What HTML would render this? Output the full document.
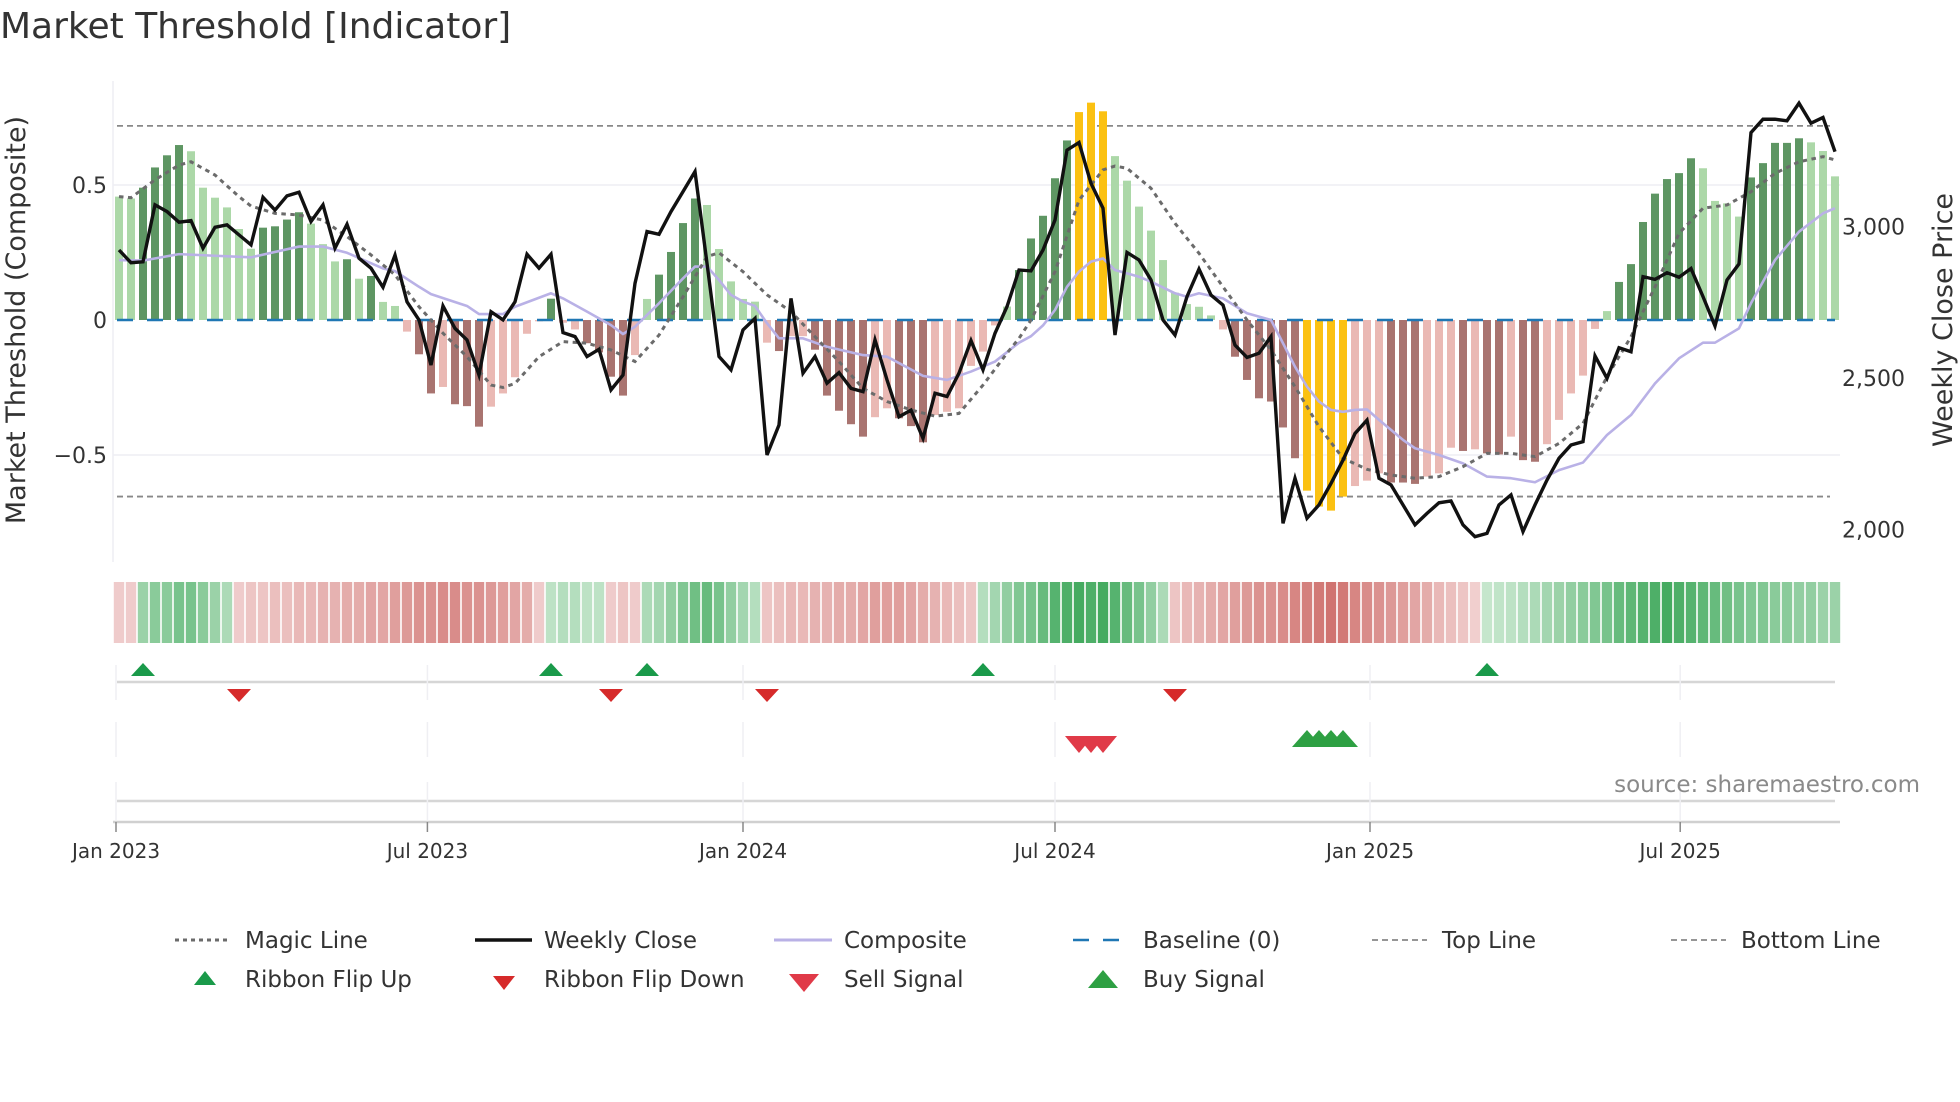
<!DOCTYPE html>
<html><head><meta charset="utf-8"><title>Market Threshold [Indicator]</title>
<style>
html,body{margin:0;padding:0;background:#fff;}
svg{display:block;font-family:"DejaVu Sans","Liberation Sans",sans-serif;}
</style></head>
<body>
<svg id="chart" width="1960" height="1102" viewBox="0 0 1960 1102" xmlns="http://www.w3.org/2000/svg">
<rect width="1960" height="1102" fill="#fff"/>
<text x="0" y="38" font-size="36" fill="#333">Market Threshold [Indicator]</text>
<text transform="translate(25,320) rotate(-90)" text-anchor="middle" font-size="27" fill="#333">Market Threshold (Composite)</text>
<text transform="translate(1952,320) rotate(-90)" text-anchor="middle" font-size="27" fill="#333">Weekly Close Price</text>
<line x1="113" y1="81" x2="113" y2="562" stroke="#eeeef4" stroke-width="1.5"/>
<g id="grid"></g>
<g id="bars"></g>
<g id="lines"></g>
<g id="ribbon"></g>
<g id="signals"></g>
<g id="xaxis"></g>
<text x="1920" y="792" text-anchor="end" font-size="23" fill="#8a8a8a">source: sharemaestro.com</text>
<g id="legend" font-size="23" fill="#333">
  <g><line x1="175" y1="940" x2="230" y2="940" stroke="#6b6b6b" stroke-width="3" stroke-dasharray="4,4"/><text x="245" y="948">Magic Line</text></g>
  <g><line x1="475" y1="940" x2="532" y2="940" stroke="#111" stroke-width="3.5"/><text x="544" y="948">Weekly Close</text></g>
  <g><line x1="774" y1="940" x2="832" y2="940" stroke="#b9b1e6" stroke-width="3"/><text x="844" y="948">Composite</text></g>
  <g><line x1="1073" y1="940" x2="1128" y2="940" stroke="#1f77b4" stroke-width="2.5" stroke-dasharray="16,14"/><text x="1143" y="948">Baseline (0)</text></g>
  <g><line x1="1372" y1="940" x2="1427" y2="940" stroke="#888" stroke-width="1.8" stroke-dasharray="6,4"/><text x="1442" y="948">Top Line</text></g>
  <g><line x1="1671" y1="940" x2="1726" y2="940" stroke="#888" stroke-width="1.8" stroke-dasharray="6,4"/><text x="1741" y="948">Bottom Line</text></g>
  <g><polygon points="194,985 216,985 205,971" fill="#1a9a4a"/><text x="245" y="987">Ribbon Flip Up</text></g>
  <g><polygon points="493,976 515,976 504,990" fill="#d62a2a"/><text x="544" y="987">Ribbon Flip Down</text></g>
  <g><polygon points="789,974 819,974 804,992" fill="#e03a48"/><text x="844" y="987">Sell Signal</text></g>
  <g><polygon points="1088,988 1118,988 1103,970" fill="#2ea043"/><text x="1143" y="987">Buy Signal</text></g>
</g>
</svg>
<script>
const barTypes = ("ggGGGGgggggg"+"GGGGgggGgGgg"+"rRRrRRRrrrrr"+"GrrRRRRr"+"gGGGGggggg"+"rRrrRRRRRrrRRRrrrrrr"+"gGGGGGYYYggggggggg"+"rRRRRRRYYYYrrrRRRrrrRrRRrRRrrrrr"+"gGGGGGGGggggGGGGGggg").split("");
const compositeBars = [.457,.45,.49,.565,.61,.648,.625,.49,.453,.417,.337,.264,
.342,.347,.372,.399,.357,.281,.217,.225,.153,.163,.067,.052,
-.043,-.127,-.272,-.248,-.312,-.319,-.395,-.321,-.272,-.212,-.051,-.005,
.079,-.01,-.035,-.086,-.12,-.21,-.28,-.13,
.078,.168,.252,.359,.45,.426,.263,.143,.078,.068,
-.084,-.115,-.06,-.06,-.11,-.28,-.336,-.386,-.432,-.36,-.327,-.364,-.393,-.453,-.352,-.34,-.327,-.17,-.117,-.02,
.05,.185,.302,.386,.525,.665,.77,.805,.773,.607,.516,.42,.331,.222,.101,.059,.049,.017,
-.035,-.136,-.222,-.29,-.302,-.398,-.512,-.632,-.691,-.706,-.654,-.615,-.595,-.568,-.602,-.602,-.607,-.58,-.568,-.473,-.485,-.479,-.494,-.498,-.432,-.519,-.525,-.46,-.37,-.272,-.206,-.033,
.033,.141,.207,.363,.468,.522,.544,.599,.562,.441,.432,.383,.528,.581,.656,.656,.673,.658,.626,.532];
const weeklyClose = [2923,2881,2884,3072,3050,3015,3020,2929,2998,3006,2973,2940,3097,3055,3102,3114,3017,3072,2929,3008,2896,2863,2800,2906,2752,2692,2543,2738,2664,2626,2510,2719,2692,2752,2909,2863,2909,2650,
2637,2571,2595,2461,2510,2813,2984,2975,3050,3116,3182,2879,2571,2527,2659,2697,2246,2345,2763,2516,2571,2483,2518,2466,2455,2626,2494,2372,2394,2301,2450,2439,2516,2624,2527,2648,2736,2857,
2854,2923,3022,3253,3278,3143,3061,2642,2915,2890,2824,2692,2642,2769,2860,2774,2741,2609,2568,2582,2637,2020,2169,2037,2081,2152,2229,2317,2361,2169,2147,2081,2015,2053,2088,2094,2015,
1976,1987,2081,2114,1993,2081,2163,2235,2279,2290,2573,2499,2600,2587,2835,2826,2848,2833,2862,2769,2672,2824,2877,3311,3355,3355,3350,3408,3342,3361,3248];
const compositeWeeks = [0,2,5,8,11,15,17,19,22,23,25,26,29,30,32,33,36,37,39,41,42,43,45,47,48,49,50,51,52,53,54,55,57,59,62,64,67,69,71,73,75,76,77,78,79,80,81,82,83,85,86,88,89,90,92,94,96,97,98,99,100,101,102,103,104,105,106,107,108,110,112,114,116,118,120,122,124,126,128,130,132,133,135,136,138,140,142,143];
const compositeLine = [.222,.22,.244,.238,.232,.272,.272,.249,.191,.181,.123,.096,.052,.022,.022,.049,.099,.08,.031,-.019,-.052,-.025,.062,.154,.198,.198,.148,.093,.068,.052,-.012,-.068,-.068,-.099,-.13,-.136,-.207,-.222,-.191,-.154,-.084,-.06,-.02,.037,.123,.179,.216,.228,.185,.16,.142,.099,.086,.099,.08,.025,0,-.086,-.173,-.247,-.302,-.333,-.34,-.333,-.331,-.37,-.407,-.444,-.475,-.5,-.531,-.58,-.586,-.601,-.556,-.528,-.426,-.352,-.235,-.142,-.084,-.084,-.031,.062,.222,.327,.395,.414];
const magicWeeks = [0,1,3,5,6,8,10,11,13,15,17,19,21,23,25,27,29,31,32,33,35,37,39,41,43,45,47,49,50,52,54,56,58,60,62,64,66,68,70,72,74,75,76,78,80,82,83,84,86,88,90,92,94,96,98,100,102,104,106,108,110,112,114,116,118,120,122,124,126,128,130,132,134,136,138,140,142,143];
const magicLine = [.457,.453,.519,.574,.586,.537,.457,.422,.395,.389,.37,.309,.241,.167,.049,-.049,-.136,-.241,-.25,-.235,-.136,-.08,-.086,-.111,-.154,-.056,.086,.235,.249,.179,.093,.031,-.062,-.154,-.253,-.302,-.333,-.356,-.346,-.241,-.123,-.068,0,.179,.444,.556,.57,.562,.488,.358,.247,.123,0,-.111,-.247,-.395,-.512,-.553,-.574,-.586,-.58,-.543,-.494,-.494,-.506,-.457,-.383,-.21,-.062,.123,.321,.414,.426,.475,.543,.586,.605,.593];
const ribbonStrength = [-.15,-.15,
.4,.5,.5,.6,.6,.5,.4,.3,
-.15,-.2,-.2,-.25,-.25,-.3,-.3,-.35,-.35,-.4,-.4,-.45,-.45,-.5,-.55,-.6,-.6,-.65,-.65,-.6,-.6,-.55,-.5,-.45,-.4,-.15,
.2,.25,.25,.2,.2,
-.15,-.2,-.15,
.3,.35,.45,.55,.65,.7,.6,.45,.35,.25,
-.2,-.25,-.3,-.3,-.35,-.35,-.4,-.4,-.45,-.5,-.5,-.5,-.45,-.4,-.35,-.3,-.25,-.2,
.25,.35,.45,.55,.6,.7,.8,.85,.9,.85,.9,.8,.7,.6,.45,.3,
-.2,-.3,-.35,-.4,-.45,-.5,-.55,-.6,-.6,-.65,-.7,-.75,-.8,-.85,-.8,-.7,-.65,-.6,-.55,-.5,-.45,-.4,-.3,-.25,-.2,-.12,
.15,.18,.2,.25,.3,.35,.4,.45,.5,.55,.6,.7,.75,.8,.85,.9,.85,.8,.75,.7,.65,.6,.55,.55,.5,.5,.45,.45,.4,.4];
const flipUpWeeks = [2,36,44,72,114];
const flipDownWeeks = [10,41,54,88];
const sellWeeks = [80,81,82];
const buyWeeks = [99,100,101,102];
const xTickLabels = ["Jan 2023","Jul 2023","Jan 2024","Jul 2024","Jan 2025","Jul 2025"];
const xTickWeeks = [-0.25,25.7,52,78,104.25,130.1];
const leftTicks = [0.5,0,-0.5];
const leftTickLabels = ["0.5","0","\u22120.5"];
const rightTicks = [3000,2500,2000];
const rightTickLabels = ["3,000","2,500","2,000"];
const topLineValue = 0.719;
const bottomLineValue = -0.654;

const NS="http://www.w3.org/2000/svg";
const X = k => 119 + 12*k;
const YL = v => 320 - 270*v;
const YR = p => 226.7 + (3000-p)*0.3027;
function mk(tag, attrs, parent){const e=document.createElementNS(NS,tag);for(const k in attrs)e.setAttribute(k,attrs[k]);parent.appendChild(e);return e;}
const grid=document.getElementById('grid'), bars=document.getElementById('bars'), lines=document.getElementById('lines'),
 ribbon=document.getElementById('ribbon'), signals=document.getElementById('signals'), xaxis=document.getElementById('xaxis');

leftTicks.forEach((v,i)=>{
  if(v!==0){const g=mk('line',{x1:113,x2:1840,y1:YL(v),y2:YL(v),stroke:'#eeeef4','stroke-width':1.5},grid);
  
  }
  const t=mk('text',{x:107,y:YL(v)+8,'text-anchor':'end','font-size':22,fill:'#333'},grid);t.textContent=leftTickLabels[i];
  
  
});
rightTicks.forEach((v,i)=>{
  const t=mk('text',{x:1842,y:YR(v)+8,'font-size':22,fill:'#333'},grid);t.textContent=rightTickLabels[i];
  
  
});
const topL=mk('line',{x1:117,x2:1830,y1:YL(topLineValue),y2:YL(topLineValue),stroke:'#888','stroke-width':1.8,'stroke-dasharray':'6,4'},grid);


const botL=mk('line',{x1:117,x2:1830,y1:YL(bottomLineValue),y2:YL(bottomLineValue),stroke:'#888','stroke-width':1.8,'stroke-dasharray':'6,4'},grid);



const barColors={G:'#5e9663',g:'#acd8a8',R:'#a97470',r:'#eab9b4',Y:'#fbc112'};
compositeBars.forEach((v,k)=>{
  const y0=YL(0), y1=YL(v);
  const r=mk('rect',{x:X(k)-4,width:8,y:Math.min(y0,y1),height:Math.max(0.5,Math.abs(y1-y0)),fill:barColors[barTypes[k]]},bars);
  
  
});
const base=mk('line',{x1:117,x2:1835,y1:YL(0),y2:YL(0),stroke:'#1f77b4','stroke-width':2.5,'stroke-dasharray':'16,14'},lines);



const cp=mk('polyline',{points:compositeWeeks.map((k,i)=>X(k)+','+YL(compositeLine[i])).join(' '),fill:'none',stroke:'#b9b1e6','stroke-width':2.6,'stroke-linejoin':'round'},lines);


const mg=mk('polyline',{points:magicWeeks.map((k,i)=>X(k)+','+YL(magicLine[i])).join(' '),fill:'none',stroke:'#6b6b6b','stroke-width':3,'stroke-dasharray':'4.5,4.5'},lines);


const wc=mk('polyline',{points:weeklyClose.map((p,k)=>X(k)+','+YR(p)).join(' '),fill:'none',stroke:'#111','stroke-width':3.4,'stroke-linejoin':'miter'},lines);



function mix(a,b,t){const pa=a.match(/\w\w/g).map(h=>parseInt(h,16)),pb=b.match(/\w\w/g).map(h=>parseInt(h,16));return 'rgb('+pa.map((c,i)=>Math.round(c+(pb[i]-c)*t)).join(',')+')';}
ribbonStrength.forEach((s,k)=>{
  const col = s>=0 ? mix('dff2e2','34a352',s) : mix('f6dede','c9605c',-s);
  const r=mk('rect',{x:X(k)-6+0.8,width:10.4,y:582,height:61,fill:col},ribbon);
  
  
});

const rowsLines=[682,801];
rowsLines.forEach(y=>{const l=mk('line',{x1:117,x2:1835,y1:y,y2:y,stroke:'#d6d6d6','stroke-width':2.5},signals);
  
  });
xTickWeeks.forEach(k=>{
  [[665,700],[722,757],[782,820]].forEach(([a,b])=>{const l=mk('line',{x1:X(k),x2:X(k),y1:a,y2:b,stroke:'#efeff3','stroke-width':1.5},signals);
    
    });
});
flipUpWeeks.forEach(k=>{const x=X(k);const p=mk('polygon',{points:(x-12)+',676 '+(x+12)+',676 '+x+',663',fill:'#1a9a4a'},signals);
  
  });
flipDownWeeks.forEach(k=>{const x=X(k);const p=mk('polygon',{points:(x-12)+',689 '+(x+12)+',689 '+x+',702',fill:'#d62a2a'},signals);
  
  });
sellWeeks.forEach(k=>{const x=X(k);const p=mk('polygon',{points:(x-14)+',736 '+(x+14)+',736 '+x+',753',fill:'#e03a48'},signals);
  
  });
buyWeeks.forEach(k=>{const x=X(k);const p=mk('polygon',{points:(x-15)+',747 '+(x+15)+',747 '+x+',730',fill:'#2ea043'},signals);
  
  });

const ax=mk('line',{x1:113,x2:1840,y1:822,y2:822,stroke:'#d0d0d0','stroke-width':2.5},xaxis);


xTickWeeks.forEach((k,i)=>{
  const tk=mk('line',{x1:X(k),x2:X(k),y1:822,y2:832,stroke:'#888','stroke-width':1.5},xaxis);
  
  
  const t=mk('text',{x:X(k),y:858,'text-anchor':'middle','font-size':20,fill:'#333'},xaxis);t.textContent=xTickLabels[i];
  
  
});
</script>
</body></html>
